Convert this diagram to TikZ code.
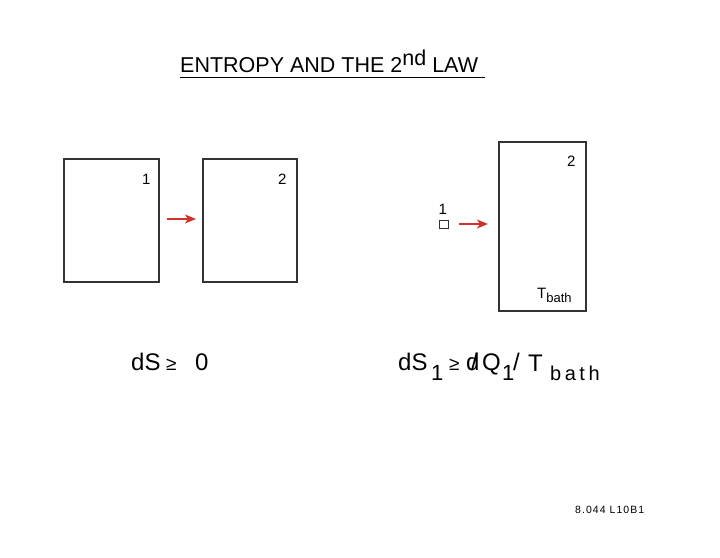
\documentclass[tikz,border=0pt]{standalone}
\usepackage{fontspec}
\setmainfont{Liberation Sans}
\usetikzlibrary{arrows.meta}
\definecolor{arrred}{HTML}{D2322A}
\definecolor{boxgray}{HTML}{333333}
\tikzset{
  txt/.style={inner sep=0pt, anchor=base west},
  sysbox/.style={draw=boxgray, line width=1.1pt},
  redarrow/.style={draw=arrred, line width=1.8pt, -{Stealth[length=11pt,width=9pt,inset=3pt]}},
}
\begin{document}
\begin{tikzpicture}[x=1pt,y=-1pt]
\useasboundingbox (0,0) rectangle (720,557);
\fill[white] (0,0) rectangle (720,557);

% title
\node[txt,font=\fontsize{21.5}{24}\selectfont] (title) at (180,72) {ENTROPY AND THE 2\raisebox{7pt}{nd} LAW};
\draw[line width=1.8pt] (180,77.5) -- (485,77.5);

% left pair of boxes
\draw[sysbox] (64,159) rectangle (159,282);
\draw[sysbox] (203,159) rectangle (297,282);
\node[txt,font=\fontsize{15}{18}\selectfont] (l1) at (142,184) {1};
\node[txt,font=\fontsize{15}{18}\selectfont] (l2) at (278,184) {2};
\coordinate (a1s) at (167,219);
\coordinate (a1e) at (196,219);
\draw[redarrow] (a1s) -- (a1e);

% right: small system and bath
\draw[sysbox] (499,142) rectangle (586,311);
\node[txt,font=\fontsize{15}{18}\selectfont] (r2) at (567,166) {2};
\node[txt,font=\fontsize{15}{18}\selectfont] (tb) at (537,298.5) {T\raisebox{-3.5pt}{\fontsize{13}{15}\selectfont bath}};
\node[draw=boxgray, line width=0.8pt, minimum width=8.5pt, minimum height=8.5pt, inner sep=0pt] (small) at (444,224.5) {};
\node[txt,font=\fontsize{15}{18}\selectfont] (s1) at (438.5,214) {1};
\coordinate (a2s) at (459,224);
\coordinate (a2e) at (488,224);
\draw[redarrow] (a2s) -- (a2e);

% left equation
\node[txt,font=\fontsize{24}{28}\selectfont] (eqL) at (131,370) {dS};
\node[txt,font=\fontsize{19}{22}\selectfont] (geL) at (166,370) {≥};
\node[txt,font=\fontsize{24}{28}\selectfont] (zero) at (195,370) {0};

% right equation
\node[txt,font=\fontsize{24}{28}\selectfont] (eqR) at (398,370) {dS};
\node[txt,font=\fontsize{22}{24}\selectfont] (sub1) at (431,380) {1};
\node[txt,font=\fontsize{19}{22}\selectfont] (geR) at (449,370) {≥};
\node[txt,font=\fontsize{24}{28}\selectfont] (dq) at (466,370) {\rlap{\kern0.2em/}d};
\node[txt,font=\fontsize{24}{28}\selectfont] (Q) at (482,370) {Q};
\node[txt,font=\fontsize{22}{24}\selectfont] (sub2) at (502,380) {1};
\node[txt,font=\fontsize{24}{28}\selectfont] (slash) at (513,370) {/};
\node[txt,font=\fontsize{24}{28}\selectfont] (T) at (528,371) {T};
\node[txt,font=\fontsize{20}{22}\selectfont] (bath) at (550,380) {b\kern3.5pt a\kern3.5pt t\kern3.5pt h};

% footer
\node[txt,font=\fontsize{10.5}{12}\selectfont\addfontfeature{LetterSpace=10}] (foot) at (575,513) {8.044 L10B1};
\end{tikzpicture}
\end{document}
